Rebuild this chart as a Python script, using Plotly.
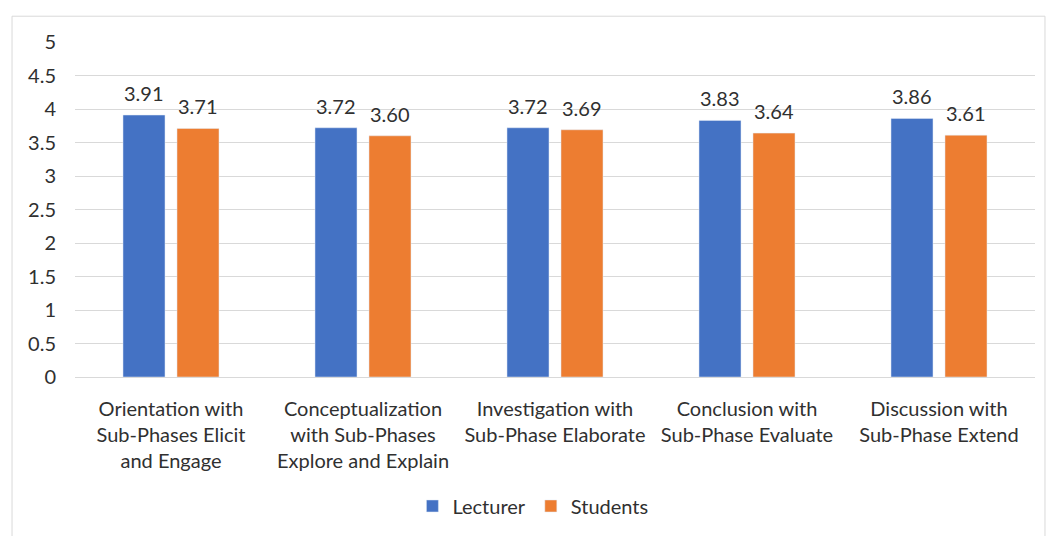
import plotly.graph_objects as go

categories = [
    "Orientation with<br>Sub-Phases Elicit<br>and Engage",
    "Conceptualization<br>with Sub-Phases<br>Explore and Explain",
    "Investigation with<br>Sub-Phase Elaborate",
    "Conclusion with<br>Sub-Phase Evaluate",
    "Discussion with<br>Sub-Phase Extend",
]
lecturer = [3.91, 3.72, 3.72, 3.83, 3.86]
students = [3.71, 3.60, 3.69, 3.64, 3.61]
y_ticks = [0, 0.5, 1, 1.5, 2, 2.5, 3, 3.5, 4, 4.5, 5]

FONT = "Lato, Carlito, Calibri, sans-serif"
TEXT = "#303030"
FS = 20

fig = go.Figure()
fig.add_trace(go.Bar(name="Lecturer", x=categories, y=lecturer, marker_color="#4472C4"))
fig.add_trace(go.Bar(name="Students", x=categories, y=students, marker_color="#ED7D31"))

# value labels above each bar
annotations = []
for series, shift in ((lecturer, -27), (students, 27)):
    for cat, v in zip(categories, series):
        annotations.append(dict(
            x=cat, y=v, xref="x", yref="y", text=f"{v:.2f}",
            showarrow=False, xshift=shift, yshift=8, yanchor="bottom",
            font=dict(size=FS, color=TEXT, family=FONT),
        ))

fig.update_layout(
    width=1046, height=536,
    margin=dict(l=75, r=11, t=42, b=156),
    paper_bgcolor="white", plot_bgcolor="white",
    font=dict(family=FONT, size=FS, color=TEXT),
    barmode="group", bargap=0.4375, bargroupgap=0.222,
    showlegend=True,
    legend=dict(orientation="h", x=0.477, xanchor="center", y=-0.385, yanchor="middle",
                font=dict(size=FS, color=TEXT), itemwidth=30, tracegroupgap=0),
    annotations=annotations,
    shapes=[dict(type="rect", xref="paper", yref="paper",
                 x0=-0.0656, x1=1.0104, y0=-0.5, y1=1.077,
                 line=dict(color="#d9d9d9", width=1), fillcolor="rgba(0,0,0,0)",
                 layer="below")],
)
fig.update_yaxes(range=[0, 5], tickvals=y_ticks, ticktext=[f"{v:g}" for v in y_ticks],
                 showgrid=True, gridcolor="#d9d9d9", gridwidth=1,
                 zeroline=True, zerolinecolor="#d9d9d9", zerolinewidth=1,
                 showline=False, ticks="", ticklabelstandoff=18,
                 tickfont=dict(size=FS, color=TEXT))
fig.update_xaxes(showline=False, ticks="", tickfont=dict(size=FS, color=TEXT),
                 ticklabelstandoff=18, tickangle=0)

fig.write_html("out.html")
